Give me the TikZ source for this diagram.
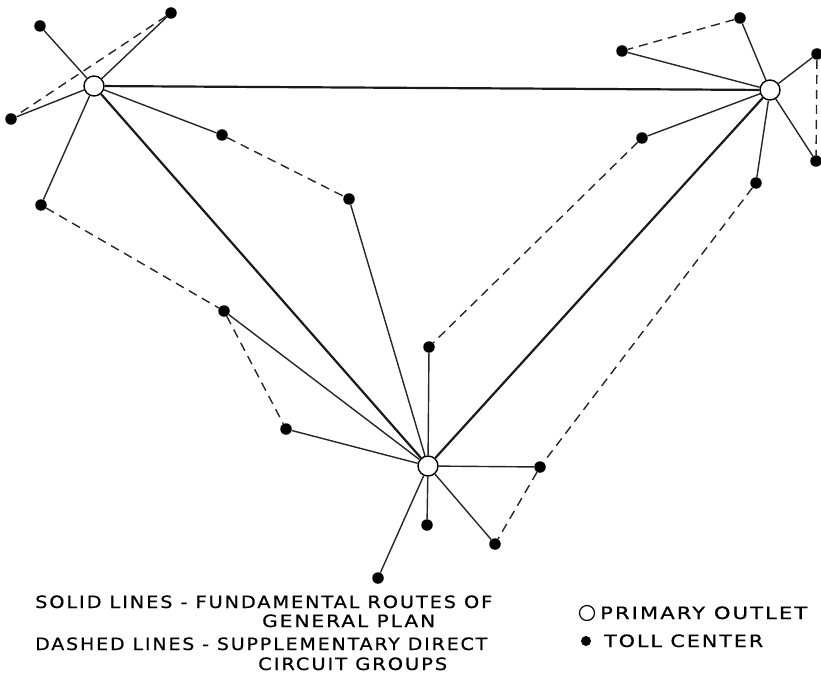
\documentclass[tikz,border=0pt]{standalone}
\usepackage{fontspec}
\usepackage{graphicx}
\newfontfamily\legfont[LetterSpace=10,FakeBold=0.6]{DejaVu Sans}
\newcommand{\fitto}[2]{\resizebox{#1}{\height}{\legfont #2}}
\begin{document}
\begin{tikzpicture}[x=1pt,y=-1pt,
  outlet/.style={circle,draw=black,fill=white,line width=1.4pt,minimum size=20pt,inner sep=0pt},
  toll/.style={circle,fill=black,minimum size=11.5pt,inner sep=0pt},
  fund/.style={line width=2.2pt,black!90},
  thin/.style={line width=1.4pt,black!85},
  supp/.style={line width=1.4pt,black!85,dash pattern=on 9pt off 6pt},
  legtext/.style={anchor=base west,inner sep=0pt,font=\fontsize{17pt}{19pt}\selectfont}
]
\useasboundingbox (0,0) rectangle (821,687);
% primary outlets
\node[outlet] (P1) at (94,86) {};
\node[outlet] (P2) at (770,90) {};
\node[outlet] (P3) at (428,466) {};
% toll centers
\node[toll] (a1) at (40,26) {};
\node[toll] (a2) at (171,13) {};
\node[toll] (a3) at (11,119) {};
\node[toll] (a4) at (41,205) {};
\node[toll] (a5) at (222,135) {};
\node[toll] (a6) at (349,199) {};
\node[toll] (a7) at (224,311) {};
\node[toll] (a8) at (286,429) {};
\node[toll] (b1) at (740,18) {};
\node[toll] (b2) at (622,51) {};
\node[toll] (b3) at (817,54) {};
\node[toll] (b4) at (816,161) {};
\node[toll] (b5) at (642,138) {};
\node[toll] (b6) at (756,183) {};
\node[toll] (c1) at (429,347) {};
\node[toll] (c2) at (540,467) {};
\node[toll] (c3) at (427,525) {};
\node[toll] (c4) at (495,544) {};
\node[toll] (c5) at (378,578) {};
% fundamental routes between primary outlets
\draw[fund] (P1) -- (P2);
\draw[fund] (P1) -- (P3);
\draw[fund] (P2) -- (P3);
% fundamental routes to toll centers
\foreach \t in {a1,a2,a3,a4,a5} \draw[thin] (P1) -- (\t);
\foreach \t in {b1,b2,b3,b4,b5,b6} \draw[thin] (P2) -- (\t);
\foreach \t in {a6,a7,a8,c1,c2,c3,c4,c5} \draw[thin] (P3) -- (\t);
% supplementary direct circuit groups
\draw[supp] (a2) -- (a3);
\draw[supp] (a5) -- (a6);
\draw[supp] (a4) -- (a7);
\draw[supp] (a7) -- (a8);
\draw[supp] (b1) -- (b2);
\draw[supp] (b3) -- (b4);
\draw[supp] (b5) -- (c1);
\draw[supp] (b6) -- (c2);
\draw[supp] (c2) -- (c4);
% legend
\node[legtext] (l1) at (35,608) {\fitto{457pt}{SOLID LINES - FUNDAMENTAL ROUTES OF}};
\node[legtext] (l2) at (262,627) {\fitto{173pt}{GENERAL PLAN}};
\node[legtext] (l3) at (35,650) {\fitto{452pt}{DASHED LINES - SUPPLEMENTARY DIRECT}};
\node[legtext] (l4) at (258,670) {\fitto{189pt}{CIRCUIT GROUPS}};
\node[circle,draw=black,line width=1.2pt,minimum size=15pt,inner sep=0pt] (lo) at (587,613) {};
\node[legtext] (l5) at (600,619) {\fitto{207pt}{PRIMARY OUTLET}};
\node[toll,minimum size=10pt] (lt) at (586,641) {};
\node[legtext] (l6) at (604,647) {\fitto{159pt}{TOLL CENTER}};
\end{tikzpicture}
\end{document}
